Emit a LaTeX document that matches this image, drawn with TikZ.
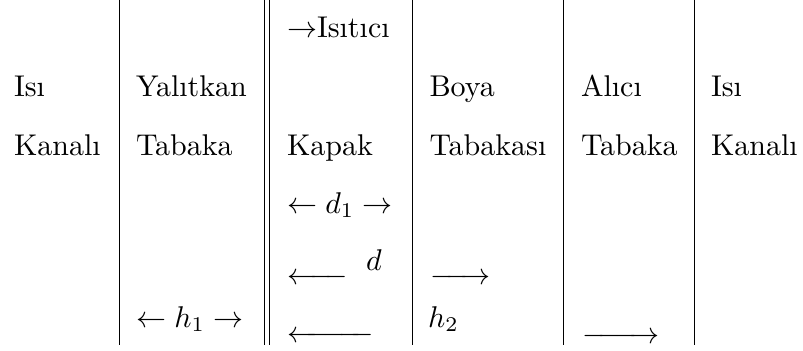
\documentclass[tikz,border=0pt]{standalone}
\usepackage{amsmath,amssymb}
\usepackage{fontspec}
\usepackage{tikz}
\usetikzlibrary{positioning}

\begin{document}
\begin{tikzpicture}[
  x=0.3333pt, y=-0.3333pt,
  cell/.style={
    anchor=base west,
    inner sep=0pt,
    outer sep=0pt
  },
  rule/.style={line width=0.4pt}
]
\useasboundingbox (0,0) rectangle (803,351);

\node[cell] (isiA)     at (14,97)    {Isı};
\node[cell] (kanaliA)  at (14,155)   {Kanalı};
\node[cell] (yalitkan) at (136,97)   {Yalıtkan};
\node[cell] (tabakaA)  at (136,155)  {Tabaka};
\node[cell] (hbir)     at (136,327)  {$\leftarrow h_1 \rightarrow$};
\node[cell] (isitici)  at (287,38)   {$\rightarrow$Isıtıcı};
\node[cell] (kapak)    at (287,155)  {Kapak};
\node[cell] (dbir)     at (287,213)  {$\leftarrow d_1 \rightarrow$};
\node[cell] (dsolA)    at (287,284.5) {\makebox[20.3pt][l]{\leftarrowfill}};
\node[cell] (dd)       at (366,270)  {$d$};
\node[cell] (dsolB)    at (287,342.5) {\makebox[29pt][l]{\leftarrowfill}};
\node[cell] (boya)     at (429.5,97) {Boya};
\node[cell] (tabakasi) at (429.5,155) {Tabakası};
\node[cell] (hsagA)    at (430,284.5) {\makebox[20.3pt][l]{\rightarrowfill}};
\node[cell] (hiki)     at (428,327)  {$h_2$};
\node[cell] (alici)    at (581,97)   {Alıcı};
\node[cell] (tabakaB)  at (581,155)  {Tabaka};
\node[cell] (hsagB)    at (582,343.5) {\makebox[26pt][l]{\rightarrowfill}};
\node[cell] (isiB)     at (711,97)   {Isı};
\node[cell] (kanaliB)  at (711,155)  {Kanalı};

\draw[rule] (119.5,0) -- (119.5,345);
\draw[rule] (264.7,0) -- (264.7,345);
\draw[rule] (269.3,0) -- (269.3,345);
\draw[rule] (412.3,0) -- (412.3,345);
\draw[rule] (563.3,0) -- (563.3,345);
\draw[rule] (694.7,0) -- (694.7,345);
\end{tikzpicture}
\end{document}
